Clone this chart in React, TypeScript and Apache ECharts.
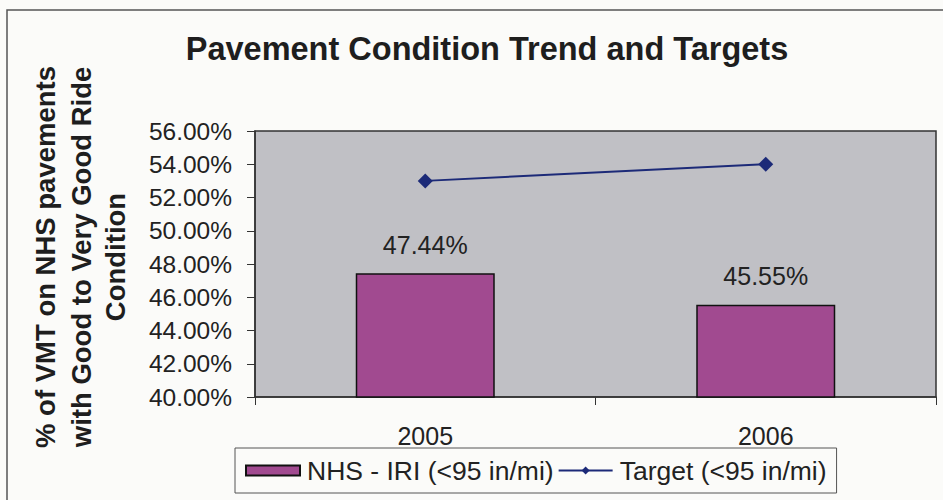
import React, { useEffect, useRef } from "react";
import * as echarts from "echarts";

const categories = ["2005", "2006"];
const nhsIriValues = [47.44, 45.55];
const targetValues = [53, 54];
const yMin = 40;
const yMax = 56;
const yInterval = 2;
const titleText = "Pavement Condition Trend and Targets";
const yNameLines = ["% of VMT on NHS pavements", "with Good to Very Good Ride", "Condition"];
const seriesNames = ["NHS - IRI (<95 in/mi)", "Target (<95 in/mi)"];

const FONT = "'Liberation Sans', Arial, sans-serif";
const pct = (v: number) => v.toFixed(2) + "%";

export default function App() {
  const ref = useRef<HTMLDivElement>(null);
  useEffect(() => {
    if (!ref.current) return;
    const chart = echarts.init(ref.current, undefined, { renderer: "svg" });
    const yNameX = [45, 81, 115];
    chart.setOption({
      animation: false,
      backgroundColor: "#fbfbf9",
      textStyle: { fontFamily: FONT, color: "#222" },
      title: {
        text: titleText,
        left: 482,
        top: 27,
        textAlign: "center",
        textStyle: { fontFamily: FONT, fontSize: 32.5, fontWeight: "bold", color: "#1e1e1e" },
      },
      graphic: [
        {
          type: "rect",
          shape: { x: 7, y: 10, width: 960, height: 520 },
          style: { fill: "none", stroke: "#555", lineWidth: 1.5 },
          silent: true,
        },
        ...yNameLines.map((t, i) => ({
          type: "text",
          x: yNameX[i],
          y: 257,
          rotation: Math.PI / 2,
          style: {
            text: t,
            fontFamily: FONT,
            fontSize: 27.5,
            fontWeight: "bold",
            fill: "#1e1e1e",
            textAlign: "center",
            textVerticalAlign: "middle",
          },
        })),
      ],
      grid: {
        left: 255,
        right: 7,
        top: 131,
        bottom: 103,
        show: true,
        backgroundColor: "#c0c0c5",
        borderColor: "#333",
        borderWidth: 1.5,
      },
      legend: {
        left: 235,
        top: 448,
        padding: [9, 10, 9, 10],
        itemGap: 4,
        itemWidth: 54,
        itemHeight: 10,
        borderColor: "#555",
        borderWidth: 1,
        backgroundColor: "#fbfbf9",
        textStyle: { fontFamily: FONT, fontSize: 26.5, color: "#222", padding: [0, 0, 0, 2] },
        data: [
          { name: seriesNames[0], icon: "rect" },
          { name: seriesNames[1] },
        ],
      },
      xAxis: {
        type: "category",
        data: categories,
        boundaryGap: true,
        axisLine: { show: true, lineStyle: { color: "#333", width: 1.5 } },
        axisTick: { show: true, length: 8, alignWithLabel: false, lineStyle: { color: "#333", width: 1 } },
        axisLabel: { margin: 26, fontSize: 25, fontFamily: FONT, color: "#222" },
        splitLine: { show: false },
      },
      yAxis: {
        type: "value",
        min: yMin,
        max: yMax,
        interval: yInterval,
        axisLine: { show: true, lineStyle: { color: "#333", width: 1.5 } },
        axisTick: { show: true, length: 8, lineStyle: { color: "#333", width: 1 } },
        axisLabel: { margin: 23, fontSize: 24.5, fontFamily: FONT, color: "#222", formatter: (v: number) => pct(v) },
        splitLine: { show: false },
      },
      series: [
        {
          name: seriesNames[0],
          type: "bar",
          data: nhsIriValues,
          barWidth: 139,
          itemStyle: { color: "#a14a90", borderColor: "#111", borderWidth: 1.5 },
          label: {
            show: true,
            position: "top",
            distance: 16,
            fontSize: 25,
            fontFamily: FONT,
            color: "#222",
            formatter: (p: any) => pct(p.value),
          },
        },
        {
          name: seriesNames[1],
          type: "line",
          data: targetValues,
          symbol: "diamond",
          symbolSize: 15,
          lineStyle: { color: "#1c2a78", width: 2 },
          itemStyle: { color: "#1c2a78" },
          z: 5,
        },
      ],
    });
    return () => chart.dispose();
  }, []);
  return (
    <div
      ref={ref}
      style={{ position: "fixed", left: 0, top: 0, width: 943, height: 500 }}
    />
  );
}
